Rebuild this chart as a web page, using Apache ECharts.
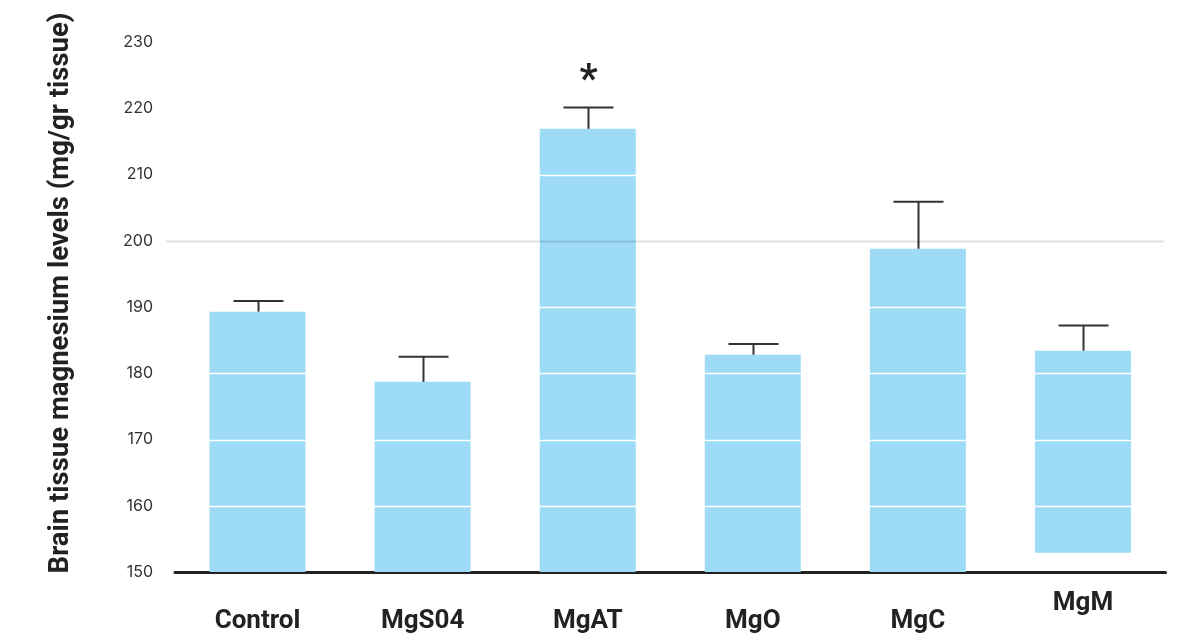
<!DOCTYPE html>
<html>
<head>
<meta charset="utf-8">
<script src="https://cdn.jsdelivr.net/npm/echarts@6/dist/echarts.min.js"></script>
<style>html,body{margin:0;padding:0;background:#fff}#c{width:1183px;height:638px}</style>
</head>
<body>
<div id="c"></div>
<script>
var categories = ['Control', 'MgS04', 'MgAT', 'MgO', 'MgC', 'MgM'];
var barTops = [189.3, 178.7, 216.9, 182.8, 198.8, 183.4];
var barBottoms = [150, 150, 150, 150, 150, 152.9];
var errorTops = [190.9, 182.5, 220.1, 184.4, 205.9, 187.2];
var significance = ['', '', '*', '', '', ''];
var gridValues = [160, 170, 180, 190, 200, 210, 220];
var yTicks = [150, 160, 170, 180, 190, 200, 210, 220, 230];

var chart = echarts.init(document.getElementById('c'));

var barData = categories.map(function (c, i) { return [i, barBottoms[i], barTops[i]]; });
var errData = categories.map(function (c, i) { return [i, barTops[i], errorTops[i], significance[i]]; });

chart.setOption({
  animation: false,
  backgroundColor: '#fff',
  grid: { left: 175, right: 17.5, top: 42, bottom: 66 },
  xAxis: {
    type: 'category',
    data: categories.map(function (c) {
      return c === 'MgM' ? { value: c, textStyle: { padding: [0, 0, 0, 0] } } : c;
    }),
    axisLine: { lineStyle: { color: '#222', width: 3 } },
    axisTick: { show: false },
    axisLabel: {
      margin: 18, padding: [18, 0, 0, 0],
      fontFamily: 'Roboto', fontWeight: 'bold', fontSize: 26, color: '#222'
    }
  },
  yAxis: {
    type: 'value', min: 150, max: 230, interval: 10,
    name: 'Brain tissue magnesium levels (mg/gr tissue)',
    nameLocation: 'middle', nameGap: 100, nameRotate: 90,
    nameTextStyle: { fontFamily: 'Roboto', fontWeight: 'bold', fontSize: 27.5, color: '#222', padding: [0, 0, 0, 28] },
    axisLine: { show: false }, axisTick: { show: false },
    splitLine: { show: false },
    axisLabel: {
      margin: 22, fontFamily: 'Inter', fontSize: 16, color: '#333',
      formatter: function (v) { return yTicks.indexOf(v) >= 0 ? String(v) : ''; }
    }
  },
  series: [
    {
      type: 'custom', name: 'bars', z: 2,
      data: barData,
      encode: { x: 0, y: [1, 2] },
      renderItem: function (params, api) {
        var x = api.value(0);
        var b = api.coord([x, api.value(1)]);
        var t = api.coord([x, api.value(2)]);
        var w = 96;
        return { type: 'rect', shape: { x: b[0] - w / 2, y: t[1], width: w, height: b[1] - t[1] },
          style: { fill: '#9ddbf6' } };
      }
    },
    {
      type: 'custom', name: 'gridlines', z: 3, silent: true,
      data: gridValues.map(function (v) { return [0, v]; }),
      encode: { y: 1 },
      renderItem: function (params, api) {
        var v = api.value(1);
        var y = Math.round(api.coord([0, v])[1]) + 0.5;
        var cs = params.coordSys;
        var gray = v === 200;
        return { type: 'line', shape: { x1: cs.x - 9, y1: y, x2: cs.x + cs.width - 2, y2: y },
          style: { stroke: gray ? 'rgba(0,0,0,0.13)' : '#ffffff', lineWidth: gray ? 2 : 1.5 } };
      }
    },
    {
      type: 'custom', name: 'errors', z: 4,
      data: errData,
      encode: { x: 0, y: [1, 2] },
      renderItem: function (params, api) {
        var x = api.value(0);
        var b = api.coord([x, api.value(1)]);
        var t = api.coord([x, api.value(2)]);
        var cx = Math.round(b[0]) + 0.5;
        var children = [
          { type: 'line', shape: { x1: cx, y1: b[1], x2: cx, y2: t[1] }, style: { stroke: '#333', lineWidth: 2 } },
          { type: 'line', shape: { x1: cx - 25, y1: t[1], x2: cx + 25, y2: t[1] }, style: { stroke: '#333', lineWidth: 2 } }
        ];
        var s = errData[params.dataIndex][3];
        if (s) {
          children.push({ type: 'text', x: cx, y: t[1] - 6,
            style: { text: s, fontFamily: 'Roboto', fontWeight: 'bold', fontSize: 40, fill: '#222',
              align: 'center', verticalAlign: 'bottom' } });
        }
        return { type: 'group', children: children };
      }
    }
  ]
});
</script>
</body>
</html>
